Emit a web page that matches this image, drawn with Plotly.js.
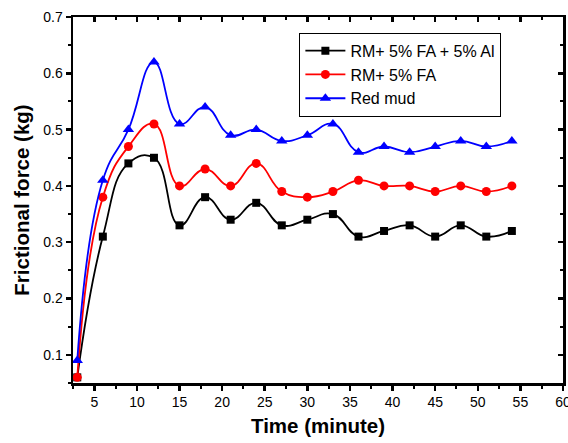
<!DOCTYPE html>
<html><head><meta charset="utf-8">
<script src="https://cdn.plot.ly/plotly-3.0.1.min.js"></script>
<style>body{margin:0;padding:0;background:#fff}</style>
</head><body>
<div id="chart" style="width:568px;height:443px"></div>
<script>
const time = [3,6,9,12,15,18,21,24,27,30,33,36,39,42,45,48,51,54];
const rmFaAl = [0.06,0.31,0.44,0.45,0.33,0.38,0.34,0.37,0.33,0.34,0.35,0.31,0.32,0.33,0.31,0.33,0.31,0.32];
const rmFa = [0.06,0.38,0.47,0.51,0.40,0.43,0.40,0.44,0.39,0.38,0.39,0.41,0.40,0.40,0.39,0.40,0.39,0.40];
const redMud = [0.09,0.41,0.50,0.62,0.51,0.54,0.49,0.50,0.48,0.49,0.51,0.46,0.47,0.46,0.47,0.48,0.47,0.48];
const names = ['RM+ 5% FA + 5% Al','RM+ 5% FA','Red mud'];
const xTicks = [5,10,15,20,25,30,35,40,45,50,55,60];
const yTicks = [0.1,0.2,0.3,0.4,0.5,0.6,0.7];

function tr(y, name, color, symbol, size){
  return {x: time, y: y, name: name, type:'scatter', mode:'lines+markers',
    line:{color:color, width:1.8, shape:'spline', smoothing:1.3},
    marker:{color:color, symbol:symbol, size:size}};
}
const data = [
  tr(rmFaAl, names[0], '#000000', 'square', 8),
  tr(rmFa, names[1], '#ff0000', 'circle', 9),
  tr(redMud, names[2], '#0000ff', 'triangle-up', 10)
];
const FONT = 'Liberation Sans, Arial, sans-serif';
const tickFont = {family:FONT, size:14, color:'#000'};
const xr = [2.5, 60];
const yr = [0.05, 0.7];
const layout = {
  width:568, height:443,
  margin:{l:73, r:5, t:17, b:60},
  paper_bgcolor:'#fff', plot_bgcolor:'#fff',
  showlegend:true,
  legend:{x:0.462, y:0.957, xanchor:'left', yanchor:'top', bgcolor:'#fff',
    bordercolor:'#000', borderwidth:1, tracegroupgap:0, itemwidth:40,
    font:{family:FONT, size:16, color:'#000'}},
  xaxis:{range:xr, tickvals:xTicks, ticks:'outside', ticklen:5, tickwidth:2.5, tickcolor:'#000',
    showline:true, linecolor:'#000', linewidth:2.5, showgrid:false, zeroline:false,
    tickfont:tickFont, ticklabeloverflow:'allow',
    minor:{tickvals:xTicks.map(v=>v-2.5), ticks:'outside', ticklen:3, tickwidth:2, tickcolor:'#000'},
    title:{text:'<b>Time (minute)</b>', font:{family:FONT, size:20.5, color:'#000'}, standoff:10}},
  yaxis:{range:yr, tickvals:yTicks, ticks:'outside', ticklen:5, tickwidth:2.5, tickcolor:'#000',
    showline:true, linecolor:'#000', linewidth:2.5, showgrid:false, zeroline:false,
    tickfont:tickFont, ticklabeloverflow:'allow',
    minor:{tickvals:yTicks.map(v=>v-0.05), ticks:'outside', ticklen:3, tickwidth:2, tickcolor:'#000'},
    title:{text:'<b>Frictional force (kg)</b>', font:{family:FONT, size:20.5, color:'#000'}, standoff:8}},
  xaxis2:{range:xr, overlaying:'x', side:'top', tickvals:xTicks, ticks:'inside', ticklen:5, tickwidth:2.5, tickcolor:'#000',
    showline:true, linecolor:'#000', linewidth:2.5, showgrid:false, zeroline:false, showticklabels:false,
    minor:{tickvals:xTicks.map(v=>v-2.5), ticks:'inside', ticklen:3, tickwidth:2, tickcolor:'#000'}},
  yaxis2:{range:yr, overlaying:'y', side:'right', tickvals:yTicks, ticks:'inside', ticklen:5, tickwidth:2.5, tickcolor:'#000',
    showline:true, linecolor:'#000', linewidth:2.5, showgrid:false, zeroline:false, showticklabels:false,
    minor:{tickvals:yTicks.map(v=>v-0.05), ticks:'inside', ticklen:3, tickwidth:2, tickcolor:'#000'}}
};
data.push({x:[xr[0]], y:[yr[0]], xaxis:'x2', yaxis:'y2', mode:'markers', marker:{opacity:0}, showlegend:false, hoverinfo:'skip'});
Plotly.newPlot('chart', data, layout, {displayModeBar:false, staticPlot:true});
</script>
</body></html>
